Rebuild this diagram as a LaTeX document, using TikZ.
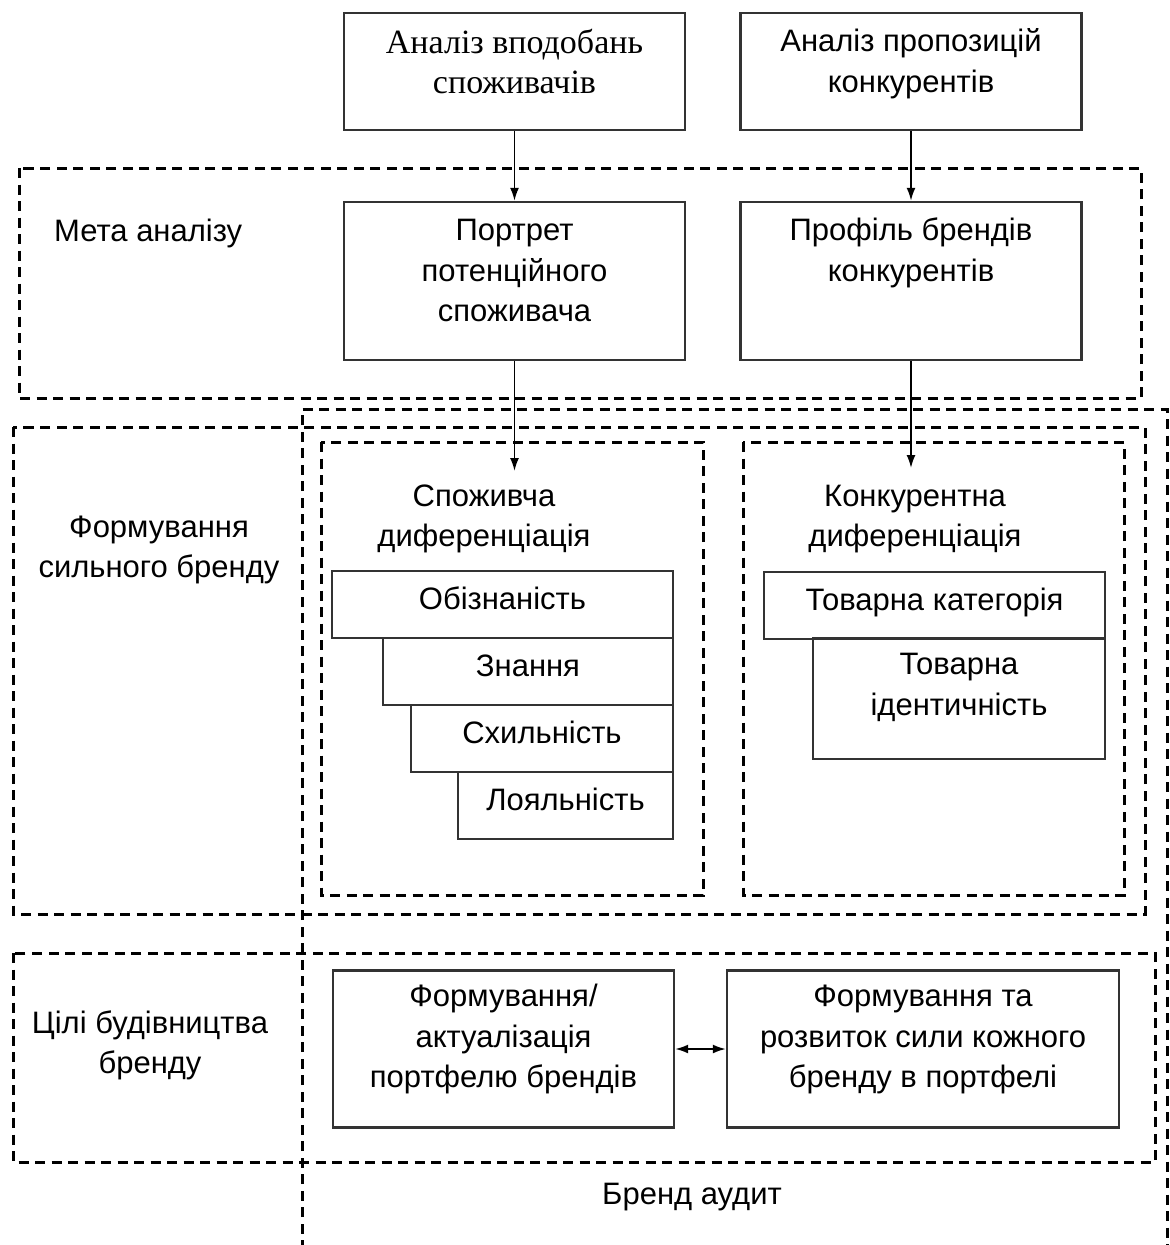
\documentclass[tikz,border=0pt]{standalone}
\usepackage{fontspec}
\setmainfont{Liberation Sans}
\newfontfamily\serifua{Liberation Serif}
\usetikzlibrary{arrows.meta, positioning}

\tikzset{
    blok/.style 2 args={draw=black!80, line width=2.4pt, inner sep=0pt, minimum width=#1, minimum height=#2, text height=22pt, text depth=12pt},
    tekst/.style={align=center, inner sep=0pt, anchor=base},
    ramka/.style={line width=3pt, dash pattern=on 10pt off 6.5pt},
    strilka/.style={line width=1.8pt, -{Latex[length=13pt,width=9pt]}},
    strilka2/.style={line width=1.8pt, {Latex[length=13pt,width=9pt]}-{Latex[length=13pt,width=9pt]}}
}

\begin{document}
\begin{tikzpicture}[x=1pt, y=-1pt, font=\fontsize{31}{40.5}\selectfont]
            \useasboundingbox (0,0) rectangle (1170,1245);

            \foreach \xa/\ya/\xb/\yb in {19/168/1141/398, 13/427/1145/914, 321/442/703/895, 743/442/1124/895, 13/953/1155/1162} {
                \draw[ramka] (\xa,\ya) rectangle (\xb,\yb);
            }
            \draw[ramka] (302,1250) -- (302,409) -- (1167,409) -- (1167,1250);

            \node[blok={341pt}{117pt}] (vpod) at (514.5,71.5) {};
            \node[blok={341pt}{117pt}] (prop) at (911,71.5) {};
            \node[blok={341pt}{158pt}] (portret) at (514.5,281) {};
            \node[blok={341pt}{158pt}] (profil) at (911,281) {};

            \foreach \nm/\cx/\cy/\w/\txt in {obizn/502.5/604.5/341/Обізнаність, znann/528/671.5/290/Знання, skhyl/542/738.5/262/Схильність, loyal/565.5/805.5/215/Лояльність} {
                \node[blok={\w pt}{67pt}] (\nm) at (\cx,\cy) {\txt};
            }
            \node[blok={341pt}{67pt}] (tovkat) at (934.5,605.5) {Товарна категорія};
            \node[blok={292pt}{121pt}] (tovid) at (959,698.5) {};

            \node[blok={341pt}{157pt}] (portf) at (503.5,1049) {};
            \node[blok={392pt}{157pt}] (sylu) at (923,1049) {};

            \node[tekst, font=\serifua\fontsize{34}{40}\selectfont] (vpodT) at ([yshift=-82pt]vpod.north) {Аналіз вподобань\\споживачів};
            \node[tekst] (propT) at ([yshift=-80.5pt]prop.north) {Аналіз пропозицій\\конкурентів};
            \node[tekst] (portretT) at ([yshift=-121pt]portret.north) {Портрет\\потенційного\\споживача};
            \node[tekst] (profilT) at ([yshift=-80.5pt]profil.north) {Профіль брендів\\конкурентів};
            \node[tekst] (tovidT) at ([yshift=-78.5pt]tovid.north) {Товарна\\ідентичність};
            \node[tekst] (portfT) at ([yshift=-118.5pt]portf.north) {Формування/\\актуалізація\\портфелю брендів};
            \node[tekst] (syluT) at ([yshift=-118.5pt]sylu.north) {Формування та\\розвиток сили кожного\\бренду в портфелі};

            \node[tekst, anchor=base west] (metaL) at (54,241) {Мета аналізу};
            \node[tekst] (sylnL) at (159,577.5) {Формування\\сильного бренду};
            \node[tekst] (cilL) at (150,1073.5) {Цілі будівництва\\бренду};
            \node[tekst] (spozhL) at (484,546.5) {Споживча\\диференціація};
            \node[tekst] (konkL) at (915,546.5) {Конкурентна\\диференціація};
            \node[tekst] (auditL) at (692,1204) {Бренд аудит};

            \coordinate (spozhV) at (514.5,471);
            \coordinate (konkV) at (911,468);
            \draw[strilka] (vpod.south) -- (portret.north);
            \draw[strilka] (prop.south) -- (profil.north);
            \draw[strilka] (portret.south) -- (spozhV);
            \draw[strilka] (profil.south) -- (konkV);
            \draw[strilka2] (portf.east) -- (sylu.west);
        \end{tikzpicture}
\end{document}
